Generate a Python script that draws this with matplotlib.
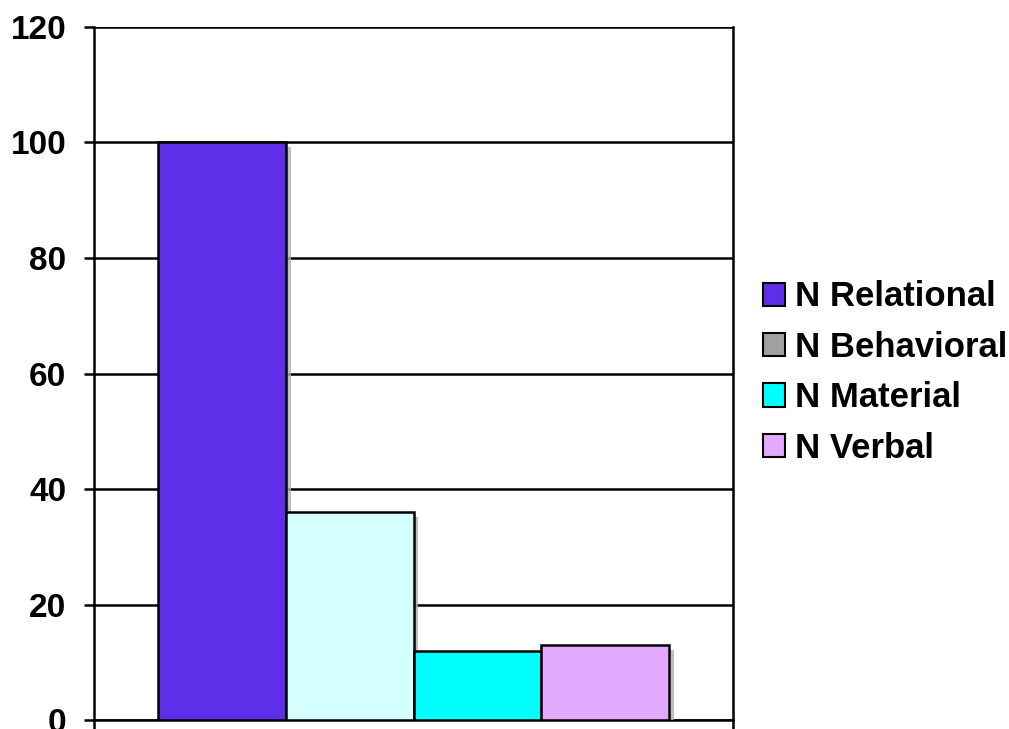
import matplotlib.pyplot as plt
import matplotlib.patheffects as pe
from matplotlib.patches import Patch

# data
series = ['N Relational', 'N Behavioral', 'N Material', 'N Verbal']
values = [100, 36, 12, 13]
bar_colors = ['#5f2ee8', '#d4ffff', '#00ffff', '#e3a8ff']
legend_colors = ['#5f2ee8', '#a0a0a0', '#00ffff', '#e3a8ff']
yticks = [0, 20, 40, 60, 80, 100, 120]

plt.rcParams['font.family'] = ['Liberation Sans', 'DejaVu Sans']

fig = plt.figure(figsize=(10.09, 7.29), dpi=100)
ax = fig.add_axes([0.0932, 0.0123, 0.6333, 0.9507])

shadow = [pe.SimplePatchShadow(offset=(3.5, -3.5), shadow_rgbFace='#b0b0b0', alpha=0.8),
          pe.Normal()]
for i, (v, c) in enumerate(zip(values, bar_colors)):
    ax.bar(i, v, width=1.0, color=c, edgecolor='black', linewidth=1.8,
           zorder=3, path_effects=shadow)

ax.set_xlim(-1, 4)
ax.set_ylim(0, 120)
ax.set_yticks(yticks)
ax.set_yticklabels([str(t) for t in yticks], fontsize=24, fontweight='bold')
ax.yaxis.grid(True, color='black', linewidth=1.8, zorder=0)
ax.set_axisbelow(True)
ax.tick_params(axis='y', length=7, width=1.8, pad=13, direction='out')
ax.set_xticks([-1, 4])
ax.set_xticklabels(['', ''])
ax.tick_params(axis='x', length=10, width=1.8, direction='out')
for s in ['left', 'right', 'bottom', 'top']:
    ax.spines[s].set_linewidth(1.8)
    ax.spines[s].set_color('black')
ax.spines['top'].set_visible(False)

handles = [Patch(facecolor=c, edgecolor='black', linewidth=1.5) for c in legend_colors]
leg = fig.legend(handles, series, loc='center left', bbox_to_anchor=(0.756, 0.489),
                 frameon=False, prop={'weight': 'bold', 'size': 25}, borderpad=0,
                 borderaxespad=0, handlelength=0.65, handleheight=0.65,
                 handletextpad=0.28, labelspacing=0.5)

fig.savefig('out.png', dpi=100)
